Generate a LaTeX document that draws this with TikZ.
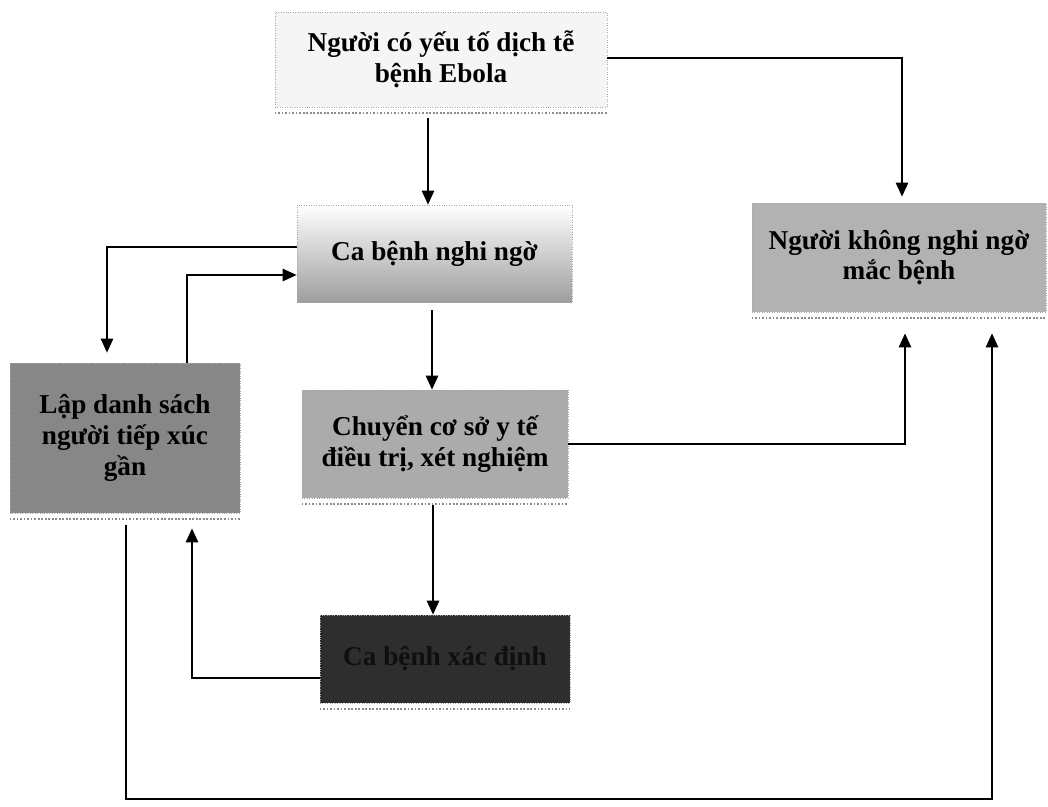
\documentclass[tikz,border=0pt]{standalone}
\usepackage{fontspec}
\setmainfont{Liberation Serif}
\usetikzlibrary{arrows.meta,calc}
\begin{document}
\begin{tikzpicture}[x=0.02cm,y=-0.02cm,
  box/.style={rectangle,inner sep=0pt,align=center,
    font=\fontsize{15.5}{17.5}\selectfont\bfseries,
    draw=black!35,densely dotted,line width=0.4pt},
  arr/.style={line width=1.1pt,-{Triangle[length=8pt,width=7pt]}},
  shadowline/.style={draw=black!45,line width=1pt,densely dotted}]
\fill[white] (0,0) rectangle (1048,806);
\useasboundingbox (0,0) rectangle (1048,806);
% boxes
\node[box,fill=black!4,minimum width=332*0.02cm,minimum height=95*0.02cm] (b1) at (441,59.5)
  {Người có yếu tố dịch tễ\\bệnh Ebola};
\node[box,top color=white,middle color=black!6,bottom color=black!38,minimum width=275*0.02cm,minimum height=97*0.02cm] (b2) at (434.5,253.5)
  {Ca bệnh nghi ngờ};
\node[box,fill=black!30,minimum width=294*0.02cm,minimum height=109*0.02cm] (b3) at (899,257.5)
  {Người không nghi ngờ\\mắc bệnh};
\node[box,fill=black!47,minimum width=230*0.02cm,minimum height=150*0.02cm] (b4) at (125,438)
  {Lập danh sách\\người tiếp xúc\\gần};
\node[box,fill=black!33,minimum width=266*0.02cm,minimum height=108*0.02cm] (b5) at (435,444)
  {Chuyển cơ sở y tế\\điều trị, xét nghiệm};
\node[box,fill=black!82,text=black!94,minimum width=250*0.02cm,minimum height=88*0.02cm] (b6) at (445,659)
  {Ca bệnh xác định};
% shadow lines below boxes
\foreach \b in {b1,b3,b4,b5,b6}{
  \draw[shadowline] ($(\b.south west)+(0,6)$) -- ($(\b.south east)+(0,6)$);
}
% connector coordinates
\coordinate (s1) at ($(b1.south)+(-13,11)$);
\coordinate (s5) at ($(b2.south)+(-2.5,8)$);
\coordinate (s7) at ($(b5.south)+(-2,7)$);
\coordinate (s9) at ($(b4.south)+(1,12)$);
\coordinate (e9) at ($(b3.south)+(93,21)$);
\coordinate (low) at (0,799);
% connectors
\draw[arr] (s1) -- (s1 |- b2.north);
\draw[arr] ($(b1.east)+(0,-1.5)$) -| ($(b3.north)+(3,-6)$);
\draw[arr] ($(b2.west)+(0,-6.5)$) -| ($(b4.north)+(-18,-10)$);
\draw[arr] ($(b4.north)+(62,0)$) |- ($(b2.west)+(0,21.5)$);
\draw[arr] (s5) -- (s5 |- b5.north);
\draw[arr] (b5.east) -| ($(b3.south)+(6,21)$);
\draw[arr] (s7) -- (s7 |- b6.north);
\draw[arr] ($(b6.west)+(0,19)$) -| ($(b4.south)+(67,15)$);
\draw[arr] (s9) -- (s9 |- low) -| (e9);
\end{tikzpicture}
\end{document}
